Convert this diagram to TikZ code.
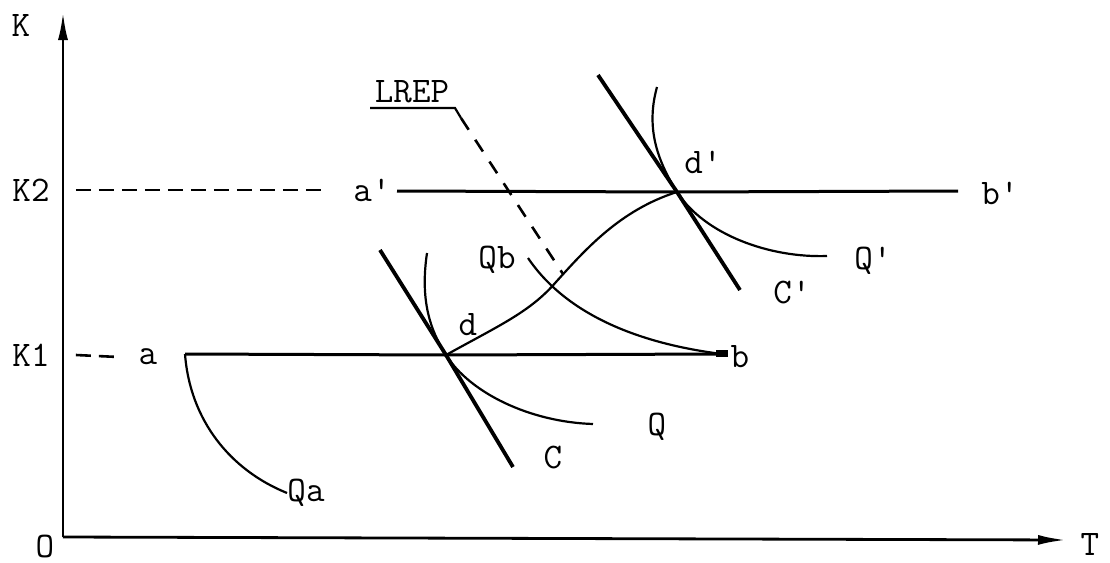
\documentclass[tikz,border=0pt]{standalone}
\usetikzlibrary{arrows.meta}

\begin{document}
\begin{tikzpicture}[x=0.5pt, y=-0.5pt,
  lbl/.style={font=\ttfamily\fontsize{18}{20}\selectfont, inner sep=0pt},
  axis/.style={line width=1.4pt, -{Latex[length=14pt,width=5pt]}},
  budget/.style={line width=1.5pt},
  cost/.style={line width=1.9pt},
  iso/.style={line width=1.1pt},
  guide/.style={line width=1.3pt, dash pattern=on 7.5pt off 4pt},
  lrep/.style={line width=1.3pt, dash pattern=on 7pt off 6pt}
]
  \useasboundingbox (0,0) rectangle (1110,563);

  % points of the diagram
  \coordinate (orig) at (63,537);
  \coordinate (ytop) at (63,12);
  \coordinate (xend) at (1066,540);
  \coordinate (d)  at (446,355);
  \coordinate (dp) at (677,192);
  \coordinate (aS) at (185,354);
  \coordinate (bS) at (722,354);
  \coordinate (apS) at (397,191);
  \coordinate (bpS) at (958,191);
  \coordinate (cTop) at (380,250);
  \coordinate (cBot) at (513,467);
  \coordinate (cpTop) at (598,75);
  \coordinate (cpBot) at (740,290);
  \coordinate (mid) at (556,282);

  % labels
  \node[lbl] (K)  at (21,25)   {K};
  \node[lbl] (O)  at (45,546)  {O};
  \node[lbl] (T)  at (1090,544) {T};
  \node[lbl] (K2) at (31,190)  {K2};
  \node[lbl] (K1) at (31,355)  {K1};
  \node[lbl] (ap) at (372,190) {a\textquotesingle};
  \node[lbl] (bp) at (1000,193) {b\textquotesingle};
  \node[lbl] (a)  at (148,357) {a};
  \node[lbl] (b)  at (740,357) {b};
  \node[lbl] (Qa) at (306,493) {Qa};
  \node[lbl] (dl) at (468,325) {d};
  \node[lbl] (dpl) at (703,162) {d\textquotesingle};
  \node[lbl] (C)  at (553,457) {C};
  \node[lbl] (Cp) at (792,292) {C\textquotesingle};
  \node[lbl] (Q)  at (657,427) {Q};
  \node[lbl] (Qp) at (873,261) {Q\textquotesingle};
  \node[lbl] (Qb) at (497,260) {Qb};
  \node[lbl] (LREP) at (412,92) {LREP};

  % axes
  \draw[axis] (orig) -- (ytop);
  \draw[axis] (orig) -- (xend);

  % budget lines
  \draw[guide] ([xshift=13pt]K2.east) -- ([xshift=-13pt]ap.west);
  \draw[budget] (apS) -- (dp) -- (bpS);
  \draw[guide] ([xshift=13pt]K1.east) -- ([xshift=-10pt]a.west);
  \draw[budget] (aS) -- (d) -- (bS);
  \fill (716,350) rectangle (728,357);

  % cost lines
  \draw[cost] (cTop) -- (d) -- (cBot);
  \draw[cost] (cpTop) -- (dp) -- (cpBot);

  % isoquants
  \draw[iso] (aS) .. controls (190,420) and (230,470) .. (Qa.west);
  \draw[iso] (427,253) .. controls (420,300) and (430,330) .. (d)
             .. controls (470,393) and (530,422) .. (593,424);
  \draw[iso] (657,87) .. controls (645,130) and (659,163) .. (dp)
             .. controls (705,235) and (770,258) .. (827,256);
  \draw[iso] (528,258) .. controls (570,320) and (650,345) .. (bS);

  % expansion path
  \draw[iso] (d) .. controls (500,325) and (530,312) .. (mid)
             .. controls (585,250) and (620,210) .. (dp);

  % LREP pointer
  \draw[iso] (370,108) -- (455,108) -- (461,118);
  \draw[lrep] (461,118) -- (563,274);
\end{tikzpicture}
\end{document}
